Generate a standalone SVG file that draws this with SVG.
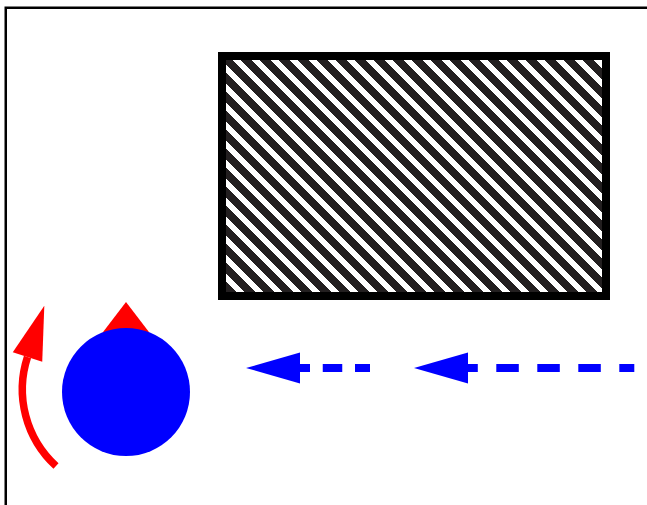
<svg xmlns="http://www.w3.org/2000/svg" width="647" height="505" viewBox="0 0 647 505">
  <style>
    .frame { fill: none; stroke: #000; stroke-width: 2.5; }
    .hatch-box { fill: url(#hatch); stroke: #000; stroke-width: 8; }
    .blue-line { fill: none; stroke: #0000ff; stroke-width: 8; }
    .red-line { fill: none; stroke: #ff0000; stroke-width: 7.5; }
  </style>
  <defs>
    <pattern id="hatch" patternUnits="userSpaceOnUse" x="0" y="0" width="19" height="19">
      <rect width="19" height="19" fill="#ffffff"/>
      <path d="M-5,-20 L24,9 M-5,-1 L24,28 M-5,18 L24,47" stroke="#231f20" stroke-width="7.6" fill="none" shape-rendering="crispEdges"/>
    </pattern>
    <marker id="arrow-blue" markerUnits="userSpaceOnUse" markerWidth="54" markerHeight="31" refX="0" refY="0" viewBox="0 -15.5 54 31" orient="auto" overflow="visible">
      <path d="M0,-15.5 L54,0 L0,15.5 Z" fill="#0000ff"/>
    </marker>
    <marker id="arrow-red" markerUnits="userSpaceOnUse" markerWidth="54" markerHeight="31" refX="0" refY="0" viewBox="0 -15.5 54 31" orient="auto" overflow="visible">
      <path d="M0,-15.5 L54,0 L0,15.5 Z" fill="#ff0000"/>
    </marker>
  </defs>

  <rect class="frame" x="5.75" y="7.75" width="700" height="600"/>

  <g id="hatched-rect">
    <rect class="hatch-box" x="222" y="56" width="384" height="240"/>
  </g>

  <g id="agent">
    <polygon points="126,302 100,336 152,336" fill="#ff0000"/>
    <circle cx="126" cy="392" r="64" fill="#0000ff"/>
  </g>

  <g id="connectors">
    <path class="red-line" d="M56,466 A104,104 0 0 1 27.5,357" marker-end="url(#arrow-red)"/>
    <path class="blue-line" d="M370,368 H300" stroke-dasharray="19.5 12.75" stroke-dashoffset="4.5" marker-end="url(#arrow-blue)"/>
    <path class="blue-line" d="M634.3,368 H468" stroke-dasharray="22.5 18.5" stroke-dashoffset="7.5" marker-end="url(#arrow-blue)"/>
  </g>
</svg>
